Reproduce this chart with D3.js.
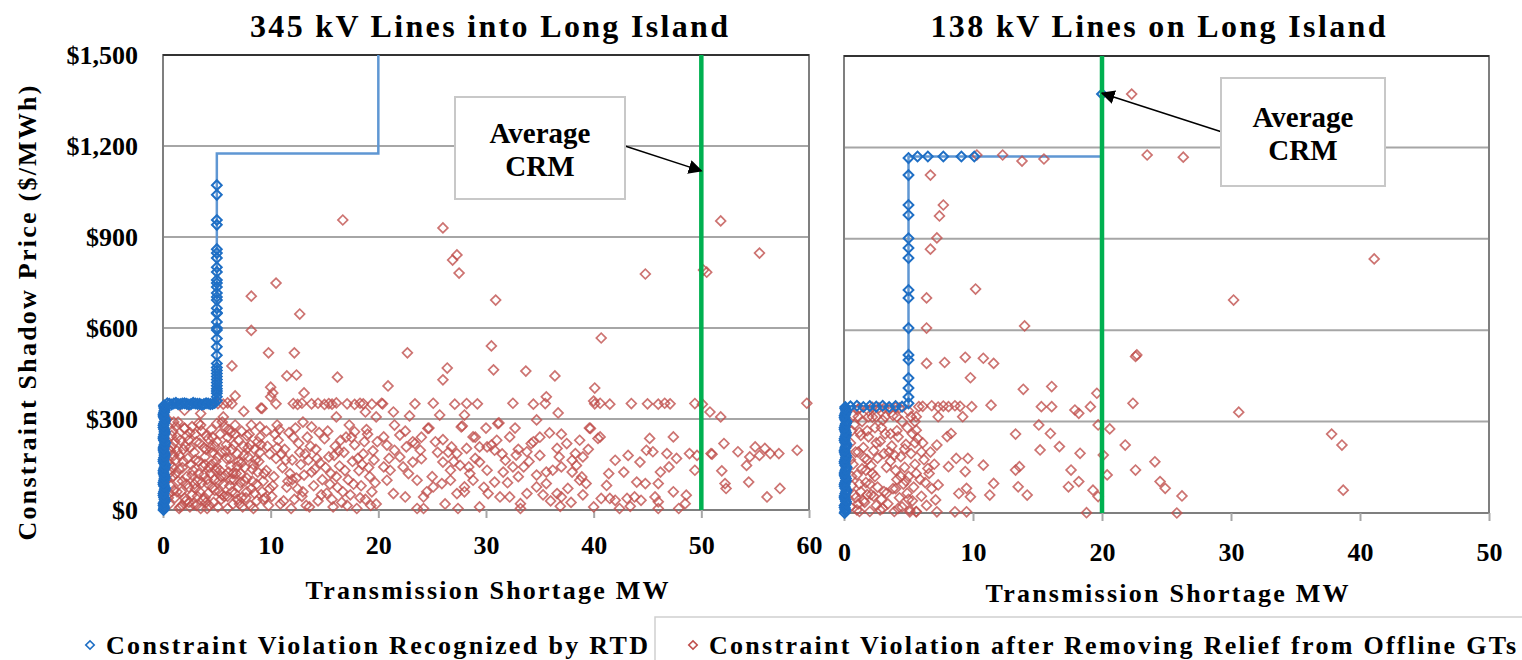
<!DOCTYPE html>
<html>
<head>
<meta charset="utf-8">
<script src="https://cdn.jsdelivr.net/npm/d3@7"></script>
<style>
    body { margin: 0; background: #fff; }
    text { font-weight: bold; fill: #000; }
</style>
</head>
<body>
<svg id="chart" width="1522" height="660"></svg>
<script>
// ---- data ----
const priceTicks = [0, 300, 600, 900, 1200, 1500];
const leftXTicks = [0, 10, 20, 30, 40, 50, 60];
const rightXTicks = [0, 10, 20, 30, 40, 50];

const panelTitles = ["345 kV Lines into Long Island", "138 kV Lines on Long Island"];
const seriesNames = ["Constraint Violation Recognized by RTD", "Constraint Violation after Removing Relief from Offline GTs"];

// average CRM (MW) and the point the arrow touches
const leftAvgCrm = 50;
const rightAvgCrm = 20;
const leftArrowTip = [50, 1118];
const rightArrowTip = [20, 1378];

// penalty step curve
const leftStepCurve = [[0, 0], [0, 350], [5, 350], [5, 1175], [20, 1175], [20, 1500]];
const rightStepCurve = [[0, 0], [0, 350], [5, 350], [5, 1170], [20, 1170], [20, 1500]];

const leftRtd = [
    [0.05,0],[0.1,10],[0.05,22],[0.15,35],[0.05,48],[0.1,60],[0.2,72],[0.05,85],[0.1,98],[0.15,110],
    [0.05,122],[0.1,135],[0.2,148],[0.05,160],[0.1,172],[0.15,185],[0.05,198],[0.1,210],[0.2,222],[0.05,235],
    [0.1,248],[0.15,260],[0.05,272],[0.1,285],[0.2,298],[0.05,310],[0.1,322],[0.15,335],[0.1,345],
    [0.1,5],[0.05,16],[0.15,28],[0.1,41],[0.05,54],[0.15,66],[0.1,79],[0.05,91],[0.15,104],[0.1,116],
    [0.05,129],[0.15,141],[0.1,154],[0.05,166],[0.15,179],[0.1,191],[0.05,204],[0.15,216],[0.1,229],[0.05,241],
    [0.15,254],[0.1,266],[0.05,279],[0.15,291],[0.1,304],[0.05,316],[0.15,328],[0.1,340],
    [0.4,352],[0.8,348],[1.2,353],[1.6,349],[2.0,352],[2.4,348],[2.8,353],[3.2,350],[3.6,347],[4.0,352],[4.4,349],[4.8,353],
    [0.6,350],[1.0,351],[1.4,349],[1.8,351],[2.2,350],[2.6,349],[3.0,351],[3.4,350],[3.8,349],[4.2,351],[4.6,350],
    [5,360],[5,373],[5,385],[5,400],[5,420],[5,440],[5,460],[5,483],[5,510],[5,538],[5,565],[5,593],[5,600],[5,620],
    [5,648],[5,650],[5,665],[5,692],[5,702],[5,715],[5,735],[5,748],[5,758],[5,785],[5,800],[5,831],[5,847],[5,860],
    [5,940],[5,956],[5,1039],[5,1071],[5,392],[5,410],[5,430],[5,450],[5,470]
];

const leftOffline = [
    // above $350
    [16.7,956],[26.0,930],[27.3,841],[26.9,824],[27.5,781],[30.9,692],[44.8,778],[50.2,791],[50.5,784],[51.8,953],[55.4,847],
    [8.2,705],[12.7,646],[10.5,748],[8.2,592],[9.8,518],[12.2,518],[6.4,475],[11.5,442],[12.4,445],[16.2,438],[10.0,405],
    [10.0,373],[6.7,376],[13.1,386],[10.2,386],[40.7,567],[22.7,518],[30.5,541],[26.4,468],[26.0,429],[30.7,462],[33.7,458],
    [36.4,442],[20.9,409],[40.1,402],[40.0,359],[35.6,373],
    // row near $350
    [5.1,351],[5.6,349],[6.0,353],[6.4,350],[10.5,350],[9.1,336],[12.1,351],[12.5,348],[12.9,352],[13.8,350],[14.4,352],[15.0,348],
    [15.4,351],[15.7,349],[16.1,353],[17.1,350],[17.8,348],[18.3,352],[18.6,350],[19.4,349],[20.3,352],[20.4,350],[23.4,350],
    [25.1,352],[27.1,349],[28.2,351],[29.2,350],[32.5,352],[34.4,349],[35.5,351],[40.1,350],[40.6,352],[41.5,349],[43.5,351],
    [45.0,350],[46.0,349],[46.6,352],[47.1,350],[49.4,351],[50.1,349],[59.8,352],
    // $300 - $340
    [2.0,329],[5.6,307],[9.2,335],[16.1,307],[18.8,323],[19.8,307],[36.7,320],[25.7,313],[22.9,310],[21.4,323],[28.0,313],
    [50.8,323],[51.8,307],[3.5,318],[7.5,325],
    // below $300, 0-20 MW
    [1.0,290],[2.0,269],[5.0,285],[6.7,280],[9.0,274],[10.6,280],[13.0,290],[17.8,258],[13.8,274],
    [0.4,100],[0.5,200],[0.4,300],[0.5,40],[0.4,160],
    [0.6,20],[0.7,80],[0.6,150],[0.8,210],[0.9,260],[1.1,40],[1.2,120],[1.0,180],[1.3,240],[1.4,290],[1.5,5],[1.4,95],
    [1.7,60],[1.8,140],[1.9,200],[2.0,270],[2.1,30],[2.2,110],[2.3,170],[2.4,230],[2.5,10],[2.4,75],
    [2.7,50],[2.8,130],[2.9,190],[3.0,250],[3.1,15],[3.2,95],[3.3,160],[3.4,220],[3.5,280],[3.0,70],
    [3.7,35],[3.8,115],[3.9,175],[4.0,245],[4.1,5],[4.2,85],[4.3,140],[4.4,205],[4.5,265],[4.2,55],
    [4.7,25],[4.8,100],[4.9,160],[5.0,225],[5.2,60],[5.3,130],[5.4,190],[5.5,290],[5.1,10],
    [5.7,45],[5.8,115],[5.9,170],[6.0,240],[6.2,80],[6.3,145],[6.4,200],[6.5,20],[6.1,265],
    [6.7,55],[6.8,120],[6.9,185],[7.0,230],[7.2,90],[7.3,155],[7.4,10],[7.5,210],
    [7.7,40],[7.8,105],[7.9,175],[8.0,250],[8.2,70],[8.3,135],[8.4,5],[8.5,200],
    [8.7,30],[8.9,160],[9.1,215],[9.2,60],[9.4,120],[9.6,260],[9.8,15],[9.9,185],[9.3,95],
    [0.9,110],[1.6,230],[2.0,40],[2.6,150],[3.3,120],[3.6,260],[4.0,25],[4.6,190],[5.3,250],[5.6,85],
    [6.2,170],[6.6,100],[7.1,20],[7.6,140],[8.1,215],[0.7,195],[1.2,165],[2.9,85],[3.8,205],[4.4,120],
    [5.0,140],[6.0,45],[7.0,75],[8.8,125],[1.3,60],[2.2,245],[3.5,5],[5.9,215],[7.3,260],[9.0,240],
    [1.1,225],[1.8,15],[2.5,205],[3.2,45],[3.9,150],[4.6,75],[5.4,35],[6.3,255],[6.9,145],[7.8,60],
    [8.6,165],[9.5,40],[1.5,135],[2.7,275],[4.8,210],[6.5,120],[8.3,95],[9.7,210],[0.8,245],[4.1,100],
    [0.6,55],[0.9,140],[1.2,275],[1.5,180],[1.8,95],[2.1,210],[2.4,25],[2.7,115],[3.0,165],[3.3,285],
    [3.6,90],[3.9,40],[4.2,235],[4.5,150],[4.8,65],[5.1,175],[5.4,110],[5.7,275],[6.0,5],[6.3,100],
    [6.6,215],[6.9,35],[7.2,120],[7.5,180],[7.8,245],[8.1,15],[8.4,150],[8.7,85],[9.0,190],[9.3,35],
    [9.6,130],[9.9,70],[0.7,125],[1.0,65],[1.3,195],[1.6,10],[1.9,160],[2.2,85],[2.5,255],[2.8,20],
    [3.1,225],[3.4,60],[3.7,145],[4.0,200],[4.3,15],[4.6,240],[4.9,130],[5.2,95],[5.5,50],[5.8,195],
    [6.1,125],[6.4,60],[6.7,250],[7.0,160],[7.3,40],[7.6,95],[7.9,205],[8.2,280],[8.5,55],[8.8,225],
    [10.1,45],[10.3,110],[10.5,170],[10.7,230],[10.9,20],[11.1,140],[11.3,200],[11.5,75],[11.7,255],[11.9,5],[12.0,165],
    [12.2,35],[12.4,105],[12.6,220],[12.8,150],[13.0,60],[13.2,185],[13.4,240],[13.6,10],[13.8,125],[14.0,80],
    [14.2,200],[14.4,30],[14.6,155],[14.8,100],[15.0,235],[15.2,55],[15.4,175],[15.6,120],[15.8,10],[16.0,210],
    [16.2,75],[16.4,145],[16.6,25],[16.8,190],[17.0,240],[17.2,100],[17.4,50],[17.6,160],[17.8,215],[18.0,5],
    [18.2,130],[18.4,80],[18.6,185],[18.8,35],[19.0,250],[19.2,110],[19.4,60],[19.6,165],[19.8,20],[19.9,225],
    [10.8,265],[11.6,95],[12.3,270],[13.5,165],[14.5,255],[15.5,85],[16.5,230],[17.3,280],[18.5,150],[19.5,195],
    [11.0,185],[12.9,45],[14.1,135],[15.9,180],[17.1,15],[18.9,265],
    [10.2,80],[10.6,205],[11.2,30],[11.4,165],[11.8,120],[12.1,240],[12.5,70],[12.7,190],[13.1,115],[13.3,15],
    [13.7,210],[14.3,170],[14.7,50],[15.1,140],[15.3,260],[15.7,35],[16.1,110],[16.3,195],[16.7,60],[16.9,130],
    [17.5,240],[17.7,85],[18.1,170],[18.3,40],[18.7,225],[19.1,140],[19.3,15],[19.7,90],[10.4,250],[12.0,100],
    // 20-40 MW
    [20.5,241],[22.0,247],[23.2,225],[24.6,269],[26.0,232],[27.7,274],[28.8,241],[31.1,285],[32.2,241],[34.2,219],
    [35.9,254],[38.7,230],[39.7,269],[40.4,236],[20.8,214],[21.5,197],[22.6,208],[23.4,219],[23.9,197],[25.3,225],
    [26.8,208],[27.3,186],[28.2,203],[29.4,208],[30.1,208],[30.5,214],[30.8,197],[31.8,164],[32.8,181],[33.8,192],
    [34.4,225],[36.6,203],[37.5,219],[38.3,186],[39.0,175],[20.5,142],[21.1,131],[22.3,142],[23.2,158],[24.0,169],
    [26.0,158],[26.7,131],[27.6,147],[28.4,142],[29.4,158],[30.1,131],[31.6,125],[32.5,142],[33.5,142],[34.7,115],
    [35.6,125],[36.2,131],[37.0,142],[38.0,164],[38.4,147],[38.9,109],[39.3,87],[20.8,98],[21.4,54],[22.5,43],
    [23.6,98],[24.2,43],[25.1,76],[25.9,87],[26.7,98],[27.3,54],[28.0,76],[28.8,98],[29.4,10],[30.2,54],
    [30.8,92],[31.3,43],[32.2,43],[33.2,21],[33.8,54],[34.7,76],[35.6,87],[36.6,54],[37.0,43],[37.6,71],
    [38.7,98],[40.0,10],[40.7,38],[23.6,5],[24.2,5],[27.4,5],[33.2,5],[36.9,12],
    [31.2,287],[34.7,297],[24.7,270],[27.8,277],[39.6,270],
    [21.5,280],[24.0,240],[26.5,190],[29.0,170],[31.0,230],[33.0,200],[35.0,180],[37.0,250],[25.0,110],[28.0,60],
    [32.0,90],[36.0,30],[39.0,50],[22.0,175],[30.0,270],
    [21.0,170],[22.8,120],[24.5,60],[25.5,190],[27.0,160],[28.5,120],[29.8,75],[31.5,185],[33.0,110],[34.0,160],
    [35.3,50],[36.8,175],[37.9,25],[39.5,200],[22.5,260],[26.2,20],[29.0,240],[32.7,270],[35.0,240],[38.0,125],
    // 40-60 MW
    [40.6,241],[45.2,236],[47.4,241],[42.0,164],[43.2,180],[44.3,158],[44.9,197],[45.5,192],[46.8,186],[47.7,170],
    [48.9,186],[49.6,180],[49.4,131],[41.4,120],[42.8,125],[44.0,92],[44.8,87],[46.0,87],[46.2,125],[47.0,142],
    [41.2,81],[41.5,38],[42.0,32],[42.4,5],[43.1,38],[43.8,43],[44.4,32],[45.7,43],[46.0,27],[47.4,60],
    [47.9,5],[48.5,21],[48.6,49],[43.4,12],[46.0,5],
    [50.9,186],[51.0,184],[52.1,219],[53.4,192],[51.9,129],[52.2,87],[52.3,71],[54.2,147],[54.4,92],[55.0,208],
    [55.4,180],[55.9,203],[56.4,186],[57.2,186],[58.9,197],[56.1,43],[57.3,71],[54.5,175]
];

const rightRtd = [
    [0.05,0],[0.1,12],[0.05,25],[0.15,38],[0.05,50],[0.1,63],[0.2,75],[0.05,88],[0.1,100],[0.15,113],
    [0.05,125],[0.1,138],[0.2,150],[0.05,163],[0.1,175],[0.15,188],[0.05,200],[0.1,213],[0.2,225],[0.05,238],
    [0.1,250],[0.15,263],[0.05,275],[0.1,288],[0.2,300],[0.05,313],[0.1,325],[0.15,338],[0.1,348],
    [0.1,6],[0.05,18],[0.15,31],[0.1,44],[0.05,56],[0.15,69],[0.1,81],[0.05,94],[0.15,106],[0.1,119],
    [0.05,131],[0.15,144],[0.1,156],[0.05,169],[0.15,181],[0.1,194],[0.05,206],[0.15,219],[0.1,231],[0.05,244],
    [0.15,256],[0.1,269],[0.05,281],[0.15,294],[0.1,306],[0.05,319],[0.15,331],[0.1,343],
    [0.5,350],[1.0,352],[1.5,348],[2.0,351],[2.5,349],[3.0,352],[3.5,348],[4.0,351],[4.5,349],
    [5,360],[5,381],[5,410],[5,443],[5,502],[5,519],[5,607],[5,706],[5,732],[5,837],[5,870],[5,902],
    [5,978],[5,1011],[5,1109],[5,1165],
    [5.7,1170],[6.5,1170],[7.7,1170],[9.1,1170],[10.1,1170],
    [20,1375]
];

const rightOffline = [
    // above $350
    [22.3,1375],[10.3,1175],[12.3,1175],[13.8,1155],[15.5,1162],[23.5,1175],[26.3,1168],[6.7,1109],[7.7,1011],[7.4,975],
    [7.2,903],[6.7,866],[10.2,735],[6.4,706],[6.4,607],[14.0,614],[41.1,834],[30.2,699],
    [6.4,491],[7.8,494],[9.4,511],[10.8,508],[11.6,491],[9.8,444],[13.9,406],[16.1,415],[19.6,393],[22.7,519],[22.6,514],
    [22.4,360],[9.9,349],[11.4,354],[15.3,349],[16.1,349],[17.9,338],[18.2,327],[19.1,349],
    [5.8,349],[6.1,350],[6.8,352],[7.3,348],[7.7,351],[8.1,349],[8.6,352],[9.0,350],
    [1.2,345],[2.2,347],[3.1,344],[4.0,346],
    // below $350
    [30.6,331],[37.8,259],[38.6,223],[38.7,75],[26.2,56],[25.8,0],
    [19.7,289],[20.6,276],[15.1,289],[16.0,261],[13.3,259],[16.7,218],[15.2,207],[18.3,196],[21.8,223],[24.1,168],
    [22.6,141],[24.5,103],[24.9,81],[13.3,141],[13.6,152],[9.6,179],[8.7,179],[9.4,136],[10.8,157],[11.6,97],
    [11.3,59],[13.5,86],[14.2,59],[17.6,141],[18.2,103],[17.4,86],[19.3,75],[19.7,54],[20.4,125],[20.1,190],
    [18.8,1],[9.5,81],[8.9,64],[9.8,53],[7.3,92],[8.1,152],[7.2,223],[8.0,251],[8.3,261],[5.6,272],
    [6.5,146],[7.1,43],[7.2,4],[8.6,4],[9.5,4],[5.6,4],[5.1,4],
    [1.1,316],[1.9,316],[2.5,316],[3.2,316],[4.1,316],[5.2,316],[5.6,316],[7.3,316],[9.2,316],
    [0.5,20],[0.6,90],[0.7,160],[0.5,230],[0.8,290],[0.9,50],[1.0,125],[1.1,200],[1.2,265],[1.0,10],
    [1.3,70],[1.4,145],[1.5,215],[1.6,35],[1.7,100],[1.8,175],[1.9,250],[2.0,5],[2.1,60],[2.2,130],
    [2.3,205],[2.4,280],[2.5,25],[2.6,85],[2.6,180],[2.8,235],[2.9,45],[3.0,15],[3.1,195],[3.2,260],
    [3.3,65],[3.4,30],[3.6,170],[3.7,220],[3.8,80],[3.9,5],[4.0,140],[4.1,110],[4.2,250],[4.3,50],
    [4.4,185],[4.5,20],[4.6,95],[4.7,150],[4.8,225],[4.9,65],[5.0,120],[5.1,10],[5.2,195],[5.3,40],
    [5.4,85],[5.5,160],[5.6,5],[5.7,245],[5.9,110],[6.0,55],[6.2,175],[6.4,25],[6.6,130],[6.8,80],
    [0.7,320],[1.4,300],[2.2,315],[3.0,305],[3.8,320],[4.5,300],[1.1,340],[1.9,335],[2.7,345],[3.5,340],
    [4.3,345],[5.0,335],[1.6,180],[2.4,120],[3.3,150],[0.6,270],[1.2,5],[1.8,60],[2.9,280],[4.1,270],
    [4.9,280],[5.5,300],[6.1,230],[6.7,200],[7.0,160],
    [0.6,120],[0.9,200],[1.2,95],[1.5,40],[1.8,270],[2.1,155],[2.3,55],[2.5,230],[2.8,10],[3.1,70],
    [3.6,260],[3.9,190],[4.2,15],[4.4,120],[4.7,210],[5.0,45],[5.3,260],[5.6,130],[6.0,200],[0.8,60],
    [1.3,255],[1.7,140],[2.0,95],[3.5,200],[4.0,80],[4.8,105],[5.5,230],[6.3,100],[0.5,175],[1.1,30]
];

// ---- layout ----
const svg = d3.select("#chart");
const fmtPrice = d => "$" + d3.format(",")(d);

// find a Times-like face that is actually installed
function pickSerif() {
    const ctx = document.createElement("canvas").getContext("2d");
    const probe = "Average CRM $1,500 Wgilm";
    const candidates = ["Liberation Serif", "Tinos", "Times New Roman", "Times", "DejaVu Serif", "Noto Serif", "FreeSerif", "Nimbus Roman"];
    ctx.font = "bold 40px monospace";
    const mono = ctx.measureText(probe).width;
    ctx.font = "bold 40px sans-serif";
    const sans = ctx.measureText(probe).width;
    for (const f of candidates) {
        ctx.font = `bold 40px "${f}", monospace`;
        const w = ctx.measureText(probe).width;
        if (w !== mono && w !== sans) return `"${f}", serif`;
    }
    return "serif";
}
const serifFamily = pickSerif();

function fitText(sel, w) {
    sel.attr("textLength", w).attr("lengthAdjust", "spacing");
}

function diamond(size) {
    return d3.symbol().type(d3.symbolSquare).size(size)();
}

function drawPanel(p) {
    const x = d3.scaleLinear().domain([0, p.xMax]).range([p.left, p.right]);
    const y = d3.scaleLinear().domain([0, 1500]).range([p.bottom, p.top]);
    const g = svg.append("g");

    // gridlines
    g.selectAll(".grid")
        .data(priceTicks.filter(d => d > 0 && d < 1500))
        .enter().append("line")
        .attr("x1", p.left).attr("x2", p.right)
        .attr("y1", d => y(d)).attr("y2", d => y(d))
        .attr("stroke", "#a6a6a6").attr("stroke-width", 2);

    // frame
    g.append("rect")
        .attr("x", p.left).attr("y", p.top)
        .attr("width", p.right - p.left).attr("height", p.bottom - p.top)
        .attr("fill", "none").attr("stroke", "#7f7f7f").attr("stroke-width", 2);
    g.append("line")
        .attr("x1", p.left).attr("x2", p.right).attr("y1", p.top).attr("y2", p.top)
        .attr("stroke", "#333").attr("stroke-width", 2);

    // x axis
    const xAxis = g.append("g")
        .attr("transform", "translate(0," + p.bottom + ")")
        .call(d3.axisBottom(x).tickValues(p.xTicks).tickSize(8).tickPadding(p.xPad));
    xAxis.select(".domain").remove();
    xAxis.selectAll("line").attr("stroke", "#a6a6a6").attr("stroke-width", 2);
    xAxis.selectAll("text").attr("font-size", 26);

    // y axis labels only on the first panel
    if (p.yLabels) {
        const yAxis = g.append("g")
            .attr("transform", "translate(" + p.left + ",0)")
            .call(d3.axisLeft(y).tickValues(priceTicks).tickFormat(fmtPrice).tickSize(0).tickPadding(25));
        yAxis.select(".domain").remove();
        yAxis.selectAll("text").attr("font-size", 26);
    }

    // step curve
    const line = d3.line().x(d => x(d[0])).y(d => y(d[1]));
    g.append("path")
        .datum(p.curve)
        .attr("d", line)
        .attr("fill", "none").attr("stroke", "#5f97d3").attr("stroke-width", 2.5);

    // offline GT series
    g.selectAll(".off")
        .data(p.offline)
        .enter().append("path")
        .attr("d", diamond(48))
        .attr("transform", d => "translate(" + x(d[0]) + "," + y(d[1]) + ") rotate(45)")
        .attr("fill", "none").attr("stroke", "#c0504d").attr("stroke-opacity", 0.8).attr("stroke-width", 1.7);

    // RTD series
    g.selectAll(".rtd")
        .data(p.rtd)
        .enter().append("path")
        .attr("d", diamond(48))
        .attr("transform", d => "translate(" + x(d[0]) + "," + y(d[1]) + ") rotate(45)")
        .attr("fill", "none").attr("stroke", "#1f6fc5").attr("stroke-width", 2);

    // average CRM line
    g.append("line")
        .attr("x1", x(p.crm)).attr("x2", x(p.crm))
        .attr("y1", p.top).attr("y2", p.bottom)
        .attr("stroke", "#00b050").attr("stroke-width", 4.5);

    // annotation
    g.append("line")
        .attr("x1", p.arrowFrom[0]).attr("y1", p.arrowFrom[1])
        .attr("x2", x(p.arrowTip[0])).attr("y2", y(p.arrowTip[1]))
        .attr("stroke", "#000").attr("stroke-width", 1.5)
        .attr("marker-end", "url(#arrow)");
    g.append("rect")
        .attr("x", p.box[0]).attr("y", p.box[1]).attr("width", p.box[2]).attr("height", p.box[3])
        .attr("fill", "#fff").attr("stroke", "#c8c8c8").attr("stroke-width", 2);
    const cx = p.box[0] + p.box[2] / 2;
    g.append("text").attr("x", cx).attr("y", p.box[1] + p.lines[0])
        .attr("text-anchor", "middle").attr("font-size", 29).text("Average");
    g.append("text").attr("x", cx).attr("y", p.box[1] + p.lines[1])
        .attr("text-anchor", "middle").attr("font-size", 29).text("CRM");

    // titles
    svg.append("text").attr("x", p.titleX).attr("y", 37)
        .attr("text-anchor", "middle").attr("font-size", 32)
        .text(p.title).call(fitText, p.titleW);
    svg.append("text").attr("x", p.axisTitleX).attr("y", p.axisTitleY)
        .attr("text-anchor", "middle").attr("font-size", 26)
        .text("Transmission Shortage MW").call(fitText, 363);
}

svg.append("defs").append("marker")
    .attr("id", "arrow")
    .attr("viewBox", "0 0 10 10").attr("refX", 9).attr("refY", 5)
    .attr("markerWidth", 14).attr("markerHeight", 14).attr("orient", "auto")
    .attr("markerUnits", "userSpaceOnUse")
    .append("path").attr("d", "M0,0L10,5L0,10Z").attr("fill", "#000");

drawPanel({
    left: 163, right: 809, top: 55, bottom: 510, xMax: 60, xTicks: leftXTicks, xPad: 18,
    yLabels: true, curve: leftStepCurve, offline: leftOffline, rtd: leftRtd,
    crm: leftAvgCrm, arrowTip: leftArrowTip, arrowFrom: [625, 146],
    box: [455, 97, 170, 102], lines: [46, 79],
    title: panelTitles[0], titleX: 489, titleW: 478,
    axisTitleX: 487, axisTitleY: 599
});

drawPanel({
    left: 844, right: 1489, top: 56, bottom: 513, xMax: 50, xTicks: rightXTicks, xPad: 22,
    yLabels: false, curve: rightStepCurve, offline: rightOffline, rtd: rightRtd,
    crm: rightAvgCrm, arrowTip: rightArrowTip, arrowFrom: [1222, 132],
    box: [1221, 78, 164, 108], lines: [49, 82],
    title: panelTitles[1], titleX: 1158, titleW: 455,
    axisTitleX: 1167, axisTitleY: 602
});

// y axis title
svg.append("text")
    .attr("transform", "translate(36,313) rotate(-90)")
    .attr("text-anchor", "middle").attr("font-size", 26)
    .text("Constraint Shadow Price ($/MWh)").call(fitText, 455);

// legend
svg.append("path")
    .attr("d", "M655,660V617H1522")
    .attr("fill", "none").attr("stroke", "#d0d0d0").attr("stroke-width", 1.5);

const legend = svg.selectAll(".legend")
    .data(seriesNames)
    .enter().append("g")
    .attr("transform", (d, i) => "translate(" + [90, 693][i] + ",645)");
legend.append("path")
    .attr("d", diamond(36))
    .attr("transform", "rotate(45)")
    .attr("fill", "none")
    .attr("stroke", (d, i) => ["#1f6fc5", "#c0504d"][i]).attr("stroke-width", 1.6);
legend.append("text")
    .attr("x", 16).attr("y", 9).attr("font-size", 26)
    .text(d => d)
    .each(function (d, i) { d3.select(this).call(fitText, [542, 807][i]); });

// apply the serif face to every label
svg.selectAll("text").style("font-family", serifFamily).style("font-weight", "bold");
</script>
</body>
</html>
